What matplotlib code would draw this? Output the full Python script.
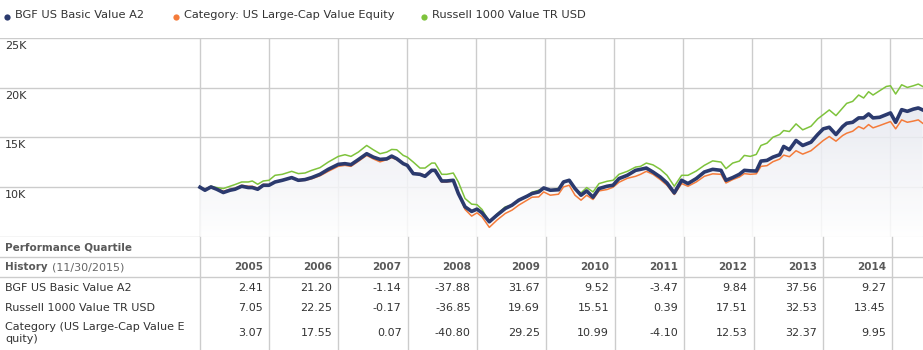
import numpy as np
import matplotlib.pyplot as plt
from matplotlib.colors import LinearSegmentedColormap

# x positions, as fractional years
dates = [
    2005.000, 2005.072, 2005.159, 2005.242, 2005.338, 2005.435, 2005.507, 2005.604,
    2005.700, 2005.758, 2005.836, 2005.917, 2006.000, 2006.087, 2006.193, 2006.329,
    2006.425, 2006.522, 2006.619, 2006.739, 2006.859, 2007.004, 2007.101, 2007.188,
    2007.294, 2007.416, 2007.511, 2007.609, 2007.706, 2007.778, 2007.851, 2007.946,
    2008.004, 2008.091, 2008.188, 2008.261, 2008.358, 2008.406, 2008.503, 2008.575,
    2008.671, 2008.744, 2008.841, 2008.937, 2009.014, 2009.087, 2009.193, 2009.304,
    2009.425, 2009.522, 2009.619, 2009.740, 2009.812, 2009.909, 2009.981, 2010.077,
    2010.196, 2010.268, 2010.351, 2010.435, 2010.522, 2010.604, 2010.696, 2010.783,
    2010.899, 2010.986, 2011.072, 2011.193, 2011.313, 2011.385, 2011.468, 2011.565,
    2011.671, 2011.768, 2011.874, 2011.980, 2012.072, 2012.192, 2012.309, 2012.430,
    2012.551, 2012.623, 2012.720, 2012.817, 2012.889, 2012.975, 2013.062, 2013.130,
    2013.217, 2013.304, 2013.401, 2013.459, 2013.542, 2013.638, 2013.735, 2013.855,
    2013.952, 2014.033, 2014.120, 2014.217, 2014.314, 2014.372, 2014.459, 2014.546,
    2014.618, 2014.690, 2014.754,
]

fund = [
    10.00, 9.70, 10.03, 9.80, 9.47, 9.70, 9.80, 10.10, 9.97, 9.97, 9.80, 10.20,
    10.20, 10.53, 10.70, 10.97, 10.70, 10.77, 10.97, 11.30, 11.80, 12.30, 12.37, 12.27,
    12.77, 13.37, 13.03, 12.80, 12.85, 13.13, 12.87, 12.37, 12.20, 11.37, 11.30, 11.10,
    11.70, 11.70, 10.63, 10.63, 10.70, 9.37, 8.03, 7.57, 7.80, 7.43, 6.53, 7.20,
    7.87, 8.20, 8.70, 9.10, 9.37, 9.53, 9.93, 9.70, 9.75, 10.53, 10.70, 9.87,
    9.20, 9.63, 9.00, 9.87, 10.10, 10.20, 10.87, 11.20, 11.70, 11.80, 11.93, 11.53,
    11.03, 10.43, 9.43, 10.70, 10.37, 10.87, 11.53, 11.80, 11.70, 10.70, 10.97, 11.30,
    11.70, 11.65, 11.63, 12.63, 12.70, 13.03, 13.27, 14.10, 13.77, 14.70, 14.20, 14.53,
    15.30, 15.87, 16.03, 15.30, 16.10, 16.43, 16.53, 16.97, 16.97, 17.37, 16.97,
]
fund_tail = [17.03, 17.30, 17.47, 16.53, 17.80, 17.63, 17.85, 17.97, 17.77]

category = [
    10.00, 9.80, 10.07, 9.85, 9.60, 9.80, 9.90, 10.20, 10.10, 10.10, 9.90, 10.30,
    10.25, 10.50, 10.70, 10.93, 10.65, 10.70, 10.85, 11.15, 11.60, 12.10, 12.20, 12.10,
    12.60, 13.20, 12.85, 12.55, 12.77, 12.97, 12.77, 12.37, 12.20, 11.37, 11.37, 11.20,
    11.70, 11.70, 10.53, 10.53, 10.63, 9.37, 7.77, 7.10, 7.43, 7.03, 5.97, 6.70,
    7.37, 7.70, 8.20, 8.70, 9.00, 9.03, 9.53, 9.20, 9.30, 10.03, 10.20, 9.20,
    8.70, 9.20, 8.77, 9.63, 9.77, 10.00, 10.50, 10.90, 11.10, 11.30, 11.60, 11.30,
    10.77, 10.20, 9.27, 10.37, 10.10, 10.53, 11.10, 11.35, 11.30, 10.43, 10.77, 11.03,
    11.37, 11.30, 11.35, 12.10, 12.17, 12.57, 12.83, 13.23, 13.07, 13.67, 13.33, 13.67,
    14.23, 14.70, 15.10, 14.63, 15.20, 15.43, 15.63, 16.10, 15.87, 16.30, 15.97,
]
category_tail = [16.20, 16.45, 16.60, 15.87, 16.77, 16.53, 16.65, 16.77, 16.43]

russell = [
    10.00, 9.77, 10.10, 9.97, 9.87, 10.10, 10.27, 10.53, 10.53, 10.63, 10.30, 10.63,
    10.70, 11.20, 11.30, 11.60, 11.37, 11.43, 11.70, 11.97, 12.53, 13.10, 13.27, 13.10,
    13.53, 14.20, 13.77, 13.37, 13.53, 13.80, 13.77, 13.20, 13.03, 12.53, 11.93, 11.93,
    12.43, 12.43, 11.30, 11.30, 11.43, 10.53, 8.87, 8.30, 8.25, 7.77, 6.53, 7.30,
    8.03, 8.20, 8.70, 9.10, 9.50, 9.70, 9.87, 9.70, 9.90, 10.50, 10.77, 9.77,
    9.43, 9.97, 9.53, 10.37, 10.60, 10.70, 11.30, 11.60, 12.03, 12.10, 12.43, 12.25,
    11.80, 11.20, 10.10, 11.20, 11.20, 11.63, 12.20, 12.65, 12.53, 11.87, 12.43, 12.63,
    13.20, 13.10, 13.30, 14.20, 14.43, 15.03, 15.30, 15.70, 15.60, 16.37, 15.77, 16.13,
    16.87, 17.30, 17.77, 17.20, 17.97, 18.43, 18.63, 19.27, 18.97, 19.60, 19.27,
]
russell_tail = [19.70, 20.13, 20.20, 19.37, 20.30, 20.03, 20.20, 20.37, 20.13]
dates_tail = [2014.850, 2014.947, 2015.007, 2015.082, 2015.169, 2015.251, 2015.338, 2015.410, 2015.474]

dates = dates + dates_tail
fund = fund + fund_tail
category = category + category_tail
russell = russell + russell_tail

legend_names = ["BGF US Basic Value A2", "Category: US Large-Cap Value Equity", "Russell 1000 Value TR USD"]
years = [2005, 2006, 2007, 2008, 2009, 2010, 2011, 2012, 2013, 2014]
row_names = ["BGF US Basic Value A2", "Russell 1000 Value TR USD", "Category (US Large-Cap Value E\nquity)"]
row_fund = ["2.41", "21.20", "-1.14", "-37.88", "31.67", "9.52", "-3.47", "9.84", "37.56", "9.27"]
row_russell = ["7.05", "22.25", "-0.17", "-36.85", "19.69", "15.51", "0.39", "17.51", "32.53", "13.45"]
row_category = ["3.07", "17.55", "0.07", "-40.80", "29.25", "10.99", "-4.10", "12.53", "32.37", "9.95"]
yticks = [10, 15, 20, 25]

NAVY = "#2b3a6e"
ORANGE = "#f47b3a"
GREEN = "#7ec33c"
GRID = "#cccccc"
TXT = "#333333"
HEAD = "#595959"

W, H = 923, 350
fig = plt.figure(figsize=(W / 100, H / 100), dpi=100)

def fx(px):
    return px / W

def fy(py):
    return 1 - py / H

# chart axes: px x 0..923, y 38..237
ax = fig.add_axes([0, fy(237), 1, fy(38) - fy(237)])
x_left = 2005 - 200 / 69.0
x_right = 2005 + (923 - 200) / 69.0
for s in ax.spines.values():
    s.set_visible(False)
ax.set_xticks([])
ax.set_yticks([])

for yv in [5] + yticks:
    ax.axhline(yv, color=GRID, lw=1, zorder=1)
for yr in years + [2015]:
    ax.axvline(yr, color=GRID, lw=1, zorder=1)

for yv in yticks:
    ax.annotate(f"{yv}K", (0, yv), xycoords=("axes fraction", "data"),
                xytext=(5, -3), textcoords="offset pixels", ha="left", va="top",
                fontsize=8, color=TXT)

# gradient fill under the fund line
cmap = LinearSegmentedColormap.from_list("fade", ["#ffffff", "#e4e6ee"])
grad = np.linspace(0, 1, 256).reshape(-1, 1)
poly = ax.fill_between(dates, fund, 5, color="none", lw=0)
img = ax.imshow(grad, extent=[dates[0], dates[-1], 5, 19], origin="lower",
                aspect="auto", cmap=cmap, alpha=0.85, zorder=2)
img.set_clip_path(poly.get_paths()[0], transform=ax.transData)
ax.set_xlim(x_left, x_right)
ax.set_ylim(5, 25)

ax.plot(dates, russell, color=GREEN, lw=1.1, zorder=3)
ax.plot(dates, category, color=ORANGE, lw=1.1, zorder=4)
ax.plot(dates, fund, color=NAVY, lw=2.6, zorder=5)

# overlay in pixel coordinates for legend and table
lines_ax = fig.add_axes([0, 0, 1, 1], facecolor="none")
lines_ax.set_xlim(0, W)
lines_ax.set_ylim(H, 0)
lines_ax.axis("off")

# legend
leg_x = [7, 176, 424]
leg_colors = [NAVY, ORANGE, GREEN]
for lx, name, c in zip(leg_x, legend_names, leg_colors):
    lines_ax.plot([lx], [17], "o", color=c, ms=4.5, mec="none")
    lines_ax.text(lx + 8, 15, name, fontsize=8.2, color=TXT, va="center", ha="left")

# table grid
for yl in [257, 277]:
    lines_ax.plot([0, W], [yl, yl], color=GRID, lw=1)
col_edges = [200 + 69.2 * i for i in range(11)]
for xe in col_edges:
    lines_ax.plot([xe, xe], [237, H], color=GRID, lw=1)

lines_ax.text(5, 247, "Performance Quartile", fontsize=7.5, weight="bold",
              color=HEAD, va="center", ha="left")
lines_ax.text(5, 267, "History", fontsize=7.5, weight="bold",
              color=HEAD, va="center", ha="left")
lines_ax.text(52, 267, "(11/30/2015)", fontsize=8, color="#666666",
              va="center", ha="left")

row_y = [288, 308, 333]
for i, yr in enumerate(years):
    xr = col_edges[i + 1] - 6
    lines_ax.text(xr, 267, str(yr), fontsize=7.5, weight="bold", color=HEAD,
                  va="center", ha="right")
    for ry, vals in zip(row_y, [row_fund, row_russell, row_category]):
        lines_ax.text(xr, ry, vals[i], fontsize=8, color=TXT, va="center", ha="right")

for ry, name in zip(row_y, row_names):
    lines_ax.text(5, ry, name, fontsize=8, color=TXT, va="center", ha="left",
                  linespacing=1.25)

fig.savefig("out.png", dpi=100)
